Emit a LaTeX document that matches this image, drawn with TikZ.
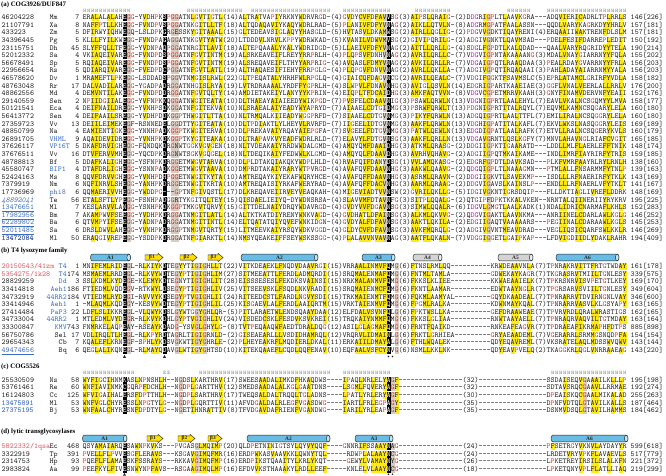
\documentclass[tikz,border=0pt]{standalone}
\usepackage{fontspec}
\setmainfont{Liberation Serif}
\usepackage{xcolor}
\definecolor{txt}{RGB}{35,35,35}
\definecolor{rtxt}{RGB}{228,62,52}
\definecolor{mtxt}{RGB}{175,40,175}
\definecolor{ycol}{RGB}{255,233,25}
\definecolor{gcol}{RGB}{214,204,194}
\definecolor{bluec}{RGB}{60,110,200}
\definecolor{dblue}{RGB}{25,55,145}
\definecolor{pinkc}{RGB}{228,88,98}
\definecolor{hcol}{RGB}{110,110,110}
\definecolor{hblue}{RGB}{105,188,228}
\definecolor{hgray}{RGB}{212,212,212}
\definecolor{scol}{RGB}{255,222,0}
\newcommand\mono{\ttfamily\fontsize{7.62pt}{7.6pt}\selectfont}
\newcommand\monosmall{\ttfamily\fontsize{5.2pt}{5.2pt}\selectfont}
\makeatletter
\newcount\seqcol
\newcount\hcnt
\newcount\rowno
\def\blackcols{,}\def\graycols{,}\def\yelcols{,}\def\magcols{,}
\def\Dfive{-----}
\def\DA{\Dfive\Dfive}
\def\DB{\Dfive\Dfive\Dfive-}
\def\DC{\Dfive\Dfive\Dfive--}
\def\incol#1{\edef\seq@tmp{\noexpand\in@{,\the\seqcol,}{#1}}\seq@tmp}
\def\seqrow#1{\edef\seq@arg{#1}\seqcol=0 \expandafter\seq@loop\seq@arg\relax}
\def\seq@loop#1{\ifx#1\relax\else\seq@char{#1}\advance\seqcol\@ne\expandafter\seq@loop\fi}
\def\seq@char#1{%
  \let\seq@bg\@empty\def\seq@fg{txt}%
  \incol\blackcols
  \ifin@\def\seq@bg{black}\def\seq@fg{white}%
  \else
    \in@{#1}{GP}\ifin@\def\seq@fg{rtxt}\fi
    \incol\magcols\ifin@\in@{#1}{DG}\ifin@\def\seq@fg{mtxt}\fi\fi
    \incol\graycols
    \ifin@\def\seq@bg{gcol}%
    \else\incol\yelcols\ifin@\in@{#1}{ACFILMVWY}\ifin@\def\seq@bg{ycol}\fi\fi
    \fi
  \fi
  \hbox to 4pt{\ifx\seq@bg\@empty\else\rlap{\color{\seq@bg}\vrule width 4pt height 5.6pt depth 1.6pt}\fi\hss\textcolor{\seq@fg}{#1}\hss}%
}
\def\Reps#1#2{\hcnt=#2\relax\loop\ifnum\hcnt>0 \hbox to 4pt{\hss#1\hss}\advance\hcnt\m@ne\repeat}
\def\cury{0}
\def\spx{49.5}
\newcommand\setrowy[1]{\xdef\cury{#1}}
\newcommand\seqentry[7]{%
  \global\advance\rowno\@ne
  \node[idtxt,#1] (id\the\rowno) at (1.5,\cury) {#2};
  \node[sptxt,#3] (sp\the\rowno) at (\spx,\cury) {#4};
  \node[numtxt,anchor=base east] (st\the\rowno) at (79.5,\cury) {#5};
  \node[seqtxt] (sq\the\rowno) at (82.5,\cury) {\seqrow{#6}};
  \node[numtxt,anchor=base west] (en\the\rowno) at (630.5,\cury) {#7};
  \pgfmathsetmacro\seq@ny{\cury+7.6}\xdef\cury{\seq@ny}%
}
\makeatother
\newcommand\helixbar[6]{%
  \draw[helixsty,fill=#5] (#2+1.8,#4-3.4) -- (#3-1.8,#4-3.4) arc[start angle=-90,end angle=90,x radius=1.8,y radius=3.4] -- (#2+1.8,#4+3.4) arc[start angle=90,end angle=270,x radius=1.8,y radius=3.4] -- cycle;
  \draw[helixsty,fill=#5!40!white] (#3-1.8,#4) ellipse[x radius=1.8,y radius=3.4];
  \node[barlabel] (#1) at ({(#2+#3)/2},#4) {#6};
}
\newcommand\strandarrow[5]{%
  \draw[strandsty] (#2,#4-2.6) -- (#3-5,#4-2.6) -- (#3-5,#4-4.2) -- (#3,#4) -- (#3-5,#4+4.2) -- (#3-5,#4+2.6) -- (#2,#4+2.6) -- cycle;
  \node[barlabel] (#1) at ({(#2+#3-4)/2},#4) {#5};
}
\tikzset{
  idtxt/.style={anchor=base west,inner sep=0pt,font=\mono,text=txt},
  spsec/.style={anchor=base west},
  sptxt/.style={inner sep=0pt,font=\mono,text=txt,spsec},
  numtxt/.style={inner sep=0pt,font=\mono,text=txt},
  seqtxt/.style={anchor=base west,inner sep=0pt,font=\mono,text=txt},
  hdr/.style={anchor=base west,inner sep=0pt,font=\bfseries\fontsize{6.8pt}{8pt}\selectfont,text=black},
  hhh/.style={anchor=base west,inner sep=0pt,font=\monosmall,text=hcol},
  helixsty/.style={draw=black!85,line width=0.45pt},
  strandsty/.style={draw=black!85,line width=0.45pt,fill=scol},
  barlabel/.style={inner sep=0pt,font=\bfseries\fontsize{5.4pt}{6pt}\selectfont,text=black!85},
}
\begin{document}
\begin{tikzpicture}[x=1pt,y=-1pt]
\useasboundingbox (0,0) rectangle (666,476);
\fill[white] (0,0) rectangle (666,476);
% ---------------- (a)
\node[hdr] (hA) at (1,6.5) {(a) COG3926/DUF847};
\node[hhh] (hhA1) at (82.5,12.6) {\Reps{H}{12}};
\node[hhh] (hhA2) at (186.5,12.6) {\Reps{H}{14}};
\node[hhh] (hhA3) at (250.5,12.6) {\Reps{H}{20}};
\node[hhh] (hhA4) at (342.5,12.6) {\Reps{H}{12}};
\node[hhh] (hhA5) at (414.5,12.6) {\Reps{H}{9}};
\node[hhh] (hhA6) at (506.5,12.6) {\Reps{H}{6}};
\node[hhh] (hhA7) at (546.5,12.6) {\Reps{H}{20}};
\def\blackcols{,10,20,76,}
\def\graycols{,11,22,23,75,101,}
\def\magcols{,97,98,}
\def\yelcols{,2,3,6,7,15,27,29,31,32,34,40,43,44,47,48,51,54,55,58,66,69,70,71,73,74,82,83,85,86,89,90,100,105,108,119,120,123,124,127,130,131,134,}
\setrowy{19.7}
\seqentry{}{46204228}{}{Mm}{7}{ERALALALAHEGG-YVDHPKSPGGATNLGVTIGTL(14)ALTRATVAPIYRKNYWDRVRGD-(4)GVDYCVFDFAVVSG(3)AIPSLQRAIG-(2)DDGRIGPLTLAAVKGRA---ADQVIERICADRLTPLRRLS}{146[226]}
\seqentry{}{21107791}{}{Xa}{8}{NAFFPTLLKHEGG-FVNDPVSPGGATNKGITLLTF(18)ALTQDAQAVIYKAQYWDRLRAD-(5)PLANIVFDFYVNAG(2)AIKLLQTVLN-(8)ADGRMGPATFAALASSN---QQDLVARYKAGRKDYYHRLV}{157[181]}
\seqentry{}{433223}{}{Zm}{5}{DFIRWYIQHWEGQ-LSLDPKGRGESSKYGITAAAL(15)GLTEDEAVSIGLAQYYHASGLD-(5)HVTASVLDKAMWSG(2)AIRLLQGLIG-(2)PDGVVGDKTIQAYRENI(4)ERQAAIIWAKTRENFDLSLM}{157[181]}
\seqentry{}{34396445}{}{Pg}{5}{KLLLFYILKWEGG-FVNDPAGAGGATNKGVTYATW(20)LTDDDVLNRVLKPPYWDRWKAD-(5)KVANILVDWVMVSG(2)GIVIPQRILG-(2)ADGIVGNKTLQAVMSAD---PDELFESIFDARREPLEDIT}{150[192]}
\seqentry{}{23115751}{}{Dh}{45}{SLYFFQLLTFEGG-YVDNPAQPGGATNRGITLAVI(18)ALTEPQAAALYKALYWDRIDGD-(5)LLAEIVFDFYVNAG(2)AITLLQRLLG-(4)SDGLFGPDTLKALQDAD---QAALVARYRQGRIDYYTELA}{190[214]}
\seqentry{}{52012332}{}{Sa}{4}{VKIAQEIVAREGG-FVNDPDSPGGATNFGVTINTM(19)ALSRKEAVEIFLREYYRRPRLH-(4)PLQPSVFDNHVNAG(2)AVRILQRLLC-(7)VDGVIGPNTAKAAAANG(3)MDALVNAYGIARRNYYFQLA}{155[202]}
\seqentry{}{56678491}{}{Sp}{5}{RQIAQEIVAREGG-FVNDPDSPGGATNFGVTINTM(19)ALSREQAVEIFLTHYYARPRIG-(4)AVQASLFDMYVNAG(2)AVKILQRLLR-(7)VDGAIGPQTLRAAQDAA(3)PEALRDAYGVARRNYYFRLA}{156[203]}
\seqentry{}{22956654}{}{Rs}{5}{QDIARQIVAREGG-FVEDPDCPGGATNFGVTLATL(19)ALTHAQAESIFIEHYFRRPGLG-(4)PLQPGVFDNVVNAG(2)AVRLLQKLLA-(7)ADGIVGPQTIRQAQAAI(3)PAHLADAYAIARRNMYYALA}{156[203]}
\seqentry{}{46578620}{}{Dv}{1}{MRAMEFTLPKEGG-LSDDADSPGGVTNMGISLRWL(22)GLTPEQATALYHRHFWLRPGLQ-(4)GIAICQFDAGVNCG(2)AVRILQEALC-(7)VDGIFGGKTFSAVMSLC(5)EPRLATAMCLGRIRFYVDLA}{158[182]}
\seqentry{}{48763048}{}{Rr}{17}{DALVADILAREGG-YGADPADRGGATNHGISLRYA(19)LVTRDRAAAALYRDFFYGPRLH-(4)SLWPVLFDNAVNHG(3)AVIGLQSVLN(14)EDGRIGPARTKAAEIAE(3)GGFLVNALVEERLALLRRLV}{176[200]}
\seqentry{}{48862556}{}{Md}{4}{DEMVNTILAKEGG-FVNDPDDRGGATNFGVTQLTY(14)AMDIETAKEIYLANYYYKPRIN-(4)EIQPLTFDCAIDHG(3)AMKFAQTVVN-(8)VDGVCGPETMRRVKAAH(3)GNYFINAMVDERVNFYEAII}{152[176]}
\seqentry{}{29140559}{}{Sen}{2}{NPIIDGIIALEGG-YVFNPKKQGGATNWGITEATA(10)DLTHAEAYAIAIEEDYWIKPGD-(7)PVSFELCDAAVNIG(3)PSAWLQRWLN(13)VDGNIGPRTLAALEHYL(7)EAVLVKALNCSGQMYYLMVA}{158[177]}
\seqentry{}{50121541}{}{Eca}{4}{DEIFNAILDREGG-YVNHPSDKGGATNFGITEKVA(10)NLSRAEALAIYEADYWYAPRYD-(7)AIAAELCDTGIDMG(3)PSRWFQRWLT(13)PDGNIGPRTITALRQYL(7)EQVMLKAMNCSQGARYLELA}{160[180]}
\seqentry{}{56413772}{}{Sen}{4}{DEIFAAILSREGG-YVDHPDDKGGPTHWGITLTTA(10)NLTRMQALKIIEADYWGGPRFD-(7)SIAAELCDTGVNMG(3)PIKYFQRWLN(13)ADGQIGPRTLAALTTFL(7)EMILIRALNCSQGGRYLELA}{160[180]}
\seqentry{}{27359723}{}{Vv}{13}{DEIILEIMEKEGF-RSNNEDELGGDTTYGITEATA(10)DLTPDIAKTLYLHEYVLRVRFD-(7)IIGEELIDTGVNMG(3)AAKFLQRWLN(13)VDGHIGPATITALKAFL(7)EKVLWKSLNASQGGRYLEIS}{169[189]}
\seqentry{}{48850799}{}{Na}{4}{EAMIENTIGKEGG-YNNHPADKGGPTKWGITERVA(10)DLPREKAVAIYRQAYAIEPGFA-(7)SVGEELFDTGVNMG(3)PATWLQEWLN(13)EDGDIGPATLAALRAFK(7)ETVLLRALNCSQGERYKVLS}{160[179]}
\seqentry{}{26891705}{text=bluec}{VHML}{9}{AQAIDEVIDREGG-YVNHPKDKGGPTKYGITEAKA(10)DLTRAPAVKVYEADFWDRLRLD-(7)ELAVYLFDTGVNSG(3)AAKFLQRLLN(13)VDGAVGRNTLQSLKGFY(7)MNVLAHAVNGLRIAFCVGIT}{165[185]}
\seqentry{}{37626117}{text=bluec}{VP16T}{5}{DKAFDRVIGHEGG-FQNDQKDRGNWTGGKVGVGEN(18)NLTVDEAKAIYRRDWWDALGMD-(4)AMQYQMFDAAIDHG(3)ATKMLQRASG-(2)DDGIIGPKTIGAARATD---LDDLLMLFLAERLEFFTNIK}{148[174]}
\seqentry{}{37676511}{}{Vv}{16}{DTVFERVVMHEGG-YQCDPKDRGNWTSGKVGQGEL(18)NLTDEQIKAIYFEDWWLKLGMD-(4)AMQYQLFDAAVDHG(3)AVRHVQHAVG-(2)ADGIIGPQTMKAIKAME---INDLIMRFIAYRIRFYTRIS}{159[185]}
\seqentry{}{48788813}{}{Bf}{5}{DDAFKALIGHEGG-YSFNPKDRGGETMWGVTARVA(10)DLPLDTAKQIAKQKYWDPLHLD-(4)RVAFQIFDANYDSG(1)VVLAMQKASG-(2)EDGRFGPDTLDAVKSAD---PLKFVMRFAAYRLRYLRNLH}{138[160]}
\seqentry{}{45580747}{text=bluec}{BIP1}{4}{DTAFDRLIGHEGG-YSNNPADKGGETMWGVTAAVA(10)DMPRDTAKAIYRARYWTPVRGD-(4)AVAFQVFDAAVNHG(3)AAKWLQAAVG-(2)QDGQIGPLTLNAAAGMN---PTMLALLFNSARMMFYTNLP}{139[163]}
\seqentry{}{52424163}{}{Ms}{8}{QQVFDRVVGHEGG-YVNHPDHPGGETNWGITKYTA(10)AMTREQAYKIYEKAFWQRYHCE-(4)AVAFQFFDAAVNHG(3)ASRMLQRAVN-(2)DDGIIGKVTLSAVEKMP---ISDLLLRFNAERIRFYTKLK}{143[169]}
\seqentry{}{7379919}{}{Nm}{6}{NQFINRVLSHEGG-YANHPKDRGGETNWGITKRTA(10)AMTREQAISIYRKAFWERYRAD-(4)AVAFQFFDACVNHG(3)AARMLQRAAG-(2)DDGVIGAVSLKAINSLP---ENDLLLRFNAERLVFYTKLT}{141[167]}
\seqentry{}{17736969}{text=bluec}{phi8}{6}{QQMAERIVVHEGG-YWDDPG---GPTNFGIVQSTL(17)DLKREQAVEIIRVEYVEAQKAH-(4)MIGEVIADTVVNSW(2)GVRILQKLLG-(5)IDGIVGKNTIGRSDQIP---FLLDKTIAGLIVREFLDDRK}{148[169]}
\seqentry{text=bluec,font=\mono\itshape}{48892041}{}{Te}{56}{ETALSFTLYPEGG-FSNHPADGGRTYKGITQLTEY(15)QISDAELIEIYQ-DYWDNSRSA-(4)SLAVVMFDTAVNFG(3)SITPLQQALG-(2)QTGIPFDPKTKKALVKEN--NRNTALQIINERIIYRYKRV}{195[225]}
\seqentry{text=bluec}{\underline{13476651}}{}{Ml}{7}{KESLARVVLANGG-YSNHPKDKGGPTMKGVTQRVY(15)GITTDELNAIYDRQYWDAVRGD-(4)GVDYVVFDGAVNSG(3)SIMWLQQALR-(6)IDGVLGMGTLAALKADK(1)NDALIDRICNARMAFLKHLS}{152[283]}
\seqentry{text=bluec}{\underline{17982956}}{}{Bm}{7}{AKAMPWVFSEEGG-YVDHPKDRGGATNMGITLATL(14)ALTKTKATDIYRENYWNKVAGD-(4)GVDHATLDFAINSG(3)ALKMLQKVVG-(2)QDGVIGAKTLAAVNKMA---ANRIINELCDARLAWLKGLG}{146[252]}
\seqentry{text=bluec}{\underline{62289802}}{}{Ba}{6}{QTVMPYIFSEEGG-YADNPADRGGATNMGITINTL(14)ELTQATATQIYQVEFWNKIDGN-(4)GVDYALFDFAVNSG(3)AAKTLQKILA-(2)EDGIIGAQTVAAAAARS---PEGIINALCDARAAWLKGLS}{145[253]}
\seqentry{text=bluec}{\underline{52011485}}{}{Sa}{6}{DRSLDWVLAHEGG-YVNHPKDRGGPTNMGVTQRTY(15)LITMEEVKAIYRSQYWDKVGGD-(4)GLDYCVFDFAVNSG(3)AVKFMQRQLG-(2)ADGIVGVNTMEAVDRAD---VEGLIQSICQARFSWLKKLR}{146[269]}
\seqentry{text=dblue,font=\mono\bfseries}{13472084}{}{Ml}{50}{ERAQGIVREPEGG-YSDDPKDRGGATNFGIARKTL(14)NMSYQEAKEIFFSEYWSKSSGG-(4)PLALAVVNVAVNAG(3)AATFLQKALN-(7)VDGGIGGETLGAIPKAP---LFDVIGDIIDLYDAKLRAHR}{194[409]}
% ---------------- (b)
\node[hdr] (hB) at (1,252.8) {(b) T4 lysozyme family};
\helixbar{bA1}{90.5}{130.5}{257.5}{hblue}{A1}
\strandarrow{bB1}{145}{163}{257.5}{β1}
\strandarrow{bB2}{180}{197}{257.5}{β2}
\strandarrow{bB3}{208}{223}{257.5}{β3}
\helixbar{bA2}{241}{318}{257.5}{hblue}{A2}
\helixbar{bA3}{362}{395}{257.5}{hblue}{A3}
\helixbar{bA4}{413}{442}{257.5}{hgray}{A4}
\helixbar{bA5}{498}{533}{257.5}{hgray}{A5}
\helixbar{bA6}{556}{619}{257.5}{hblue}{A6}
\def\blackcols{,10,20,76,}
\def\graycols{,11,23,28,30,78,}
\def\magcols{,}
\def\yelcols{,2,3,5,6,8,15,17,18,24,27,29,32,33,40,44,45,48,49,52,53,56,57,60,68,69,70,71,73,74,75,82,85,86,89,104,107,108,111,120,123,124,127,128,131,134,135,}
\def\spx{67}
\tikzset{spsec/.style={anchor=base east}}
\setrowy{268.7}
\seqentry{text=pinkc}{20150543/41zm}{text=bluec}{T4}{1}{MNIFEMLRIDEGL-RLKIYKDTEGYYTIGIGHLLT(22)VITKDEAEKLFNQDVDAAVRGI(15)VRRAALINMVFQMG(6)FTNSLRMLQQ\DA KRWDEAAVNLA(7)TPNRAKRVITTFRTGTWDAY}{161[178]}
\seqentry{text=pinkc}{5354275/1k28}{text=bluec}{T4}{174}{MSMAEMLRRDEGL-RLKVYWDTEGYPTIGIGHLIM(27)SITMEEATTLFERDLADMQRDI(15)SRQMALENMAFQMG(6)FNTMLTAMLA\DA GDWEKAYKAGR(7)TKGRASRVTMIILTGNLESY}{339[575]}
\seqentry{}{28829259}{text=bluec}{Dd}{3}{SSLKDMLKYDEGE-KLEMYKDTEGNYTIGIGHLIT(28)EISSSESESLFEKDKSVAINSI(15)NRKMALANMVFQMG(6)FKKSLKLIEE\DA KKWAEAAIELK(7)TPKRSNRVISVPETGTLKEY}{169[170]}
\seqentry{}{33414818}{text=bluec}{Aeh1}{186}{FTIEDMLVQDEGV-RTKWYLDSEGYPTIGIGHLIV(25)VITSEEVSKLFSQDLNKVRADI(15)SRQMAIENMCFQMG(6)FKNTLAAMAR\DA EDWTAAYNGLR(7)TPGRSARVSVIILTGNLESY}{349[604]}
\seqentry{}{34732919}{text=bluec}{44RR2}{184}{VTIEDMLRYDEGI-RVVVYKDSEGYPTVGIGHLII(24)RITEEDCSTLFARDLNGVYSDI(15)TRKMAIENMTFQMG(6)FQKMLAAMYAL\Dfive----GQYDKAADEAL(7)TPNRARRVTDVIRNGNLVAY}{346[600]}
\seqentry{}{33414946}{text=bluec}{Aeh1}{1}{-MLAQMLKQDEGY-KESVYWDTEGYPTIGIGHLIL(25)KISGAEVLALFERDLAAIQRTM(15)VRKTAIENMVFQMG(6)FPGMLRALKA\DA KDWNMAYKQAL(7)TPNRARRVASVLKLGSYAPY}{163[165]}
\seqentry{}{27414484}{text=bluec}{PaP3}{22}{LDFLSLIKKREGL-VLQWYKDSLGYWTGGYGHLQR-(5)PITLARAETWLENDSQAAYDAA(12)ELFDALVSVNFQLG(6)FPKTWSLLKA\DA GEFDRAAWEAE(7)TPVRVRDLQRALWRASTIGS}{162[165]}
\seqentry{}{34733004}{text=bluec}{44RR2}{1}{MTLEDMLVYDEGR-RLKVYKDHLGYPTVGIGHLIV(24)VISDEDCSKLFESDVKSVKREI(15)TRQKAIYNMMFQMG(6)FKKSLGLIAA\DA RNWTAAYAELL(7)TPNRAQRVAQVILTGTMDAY}{163[164]}
\seqentry{}{33300847}{text=bluec}{KMV}{743}{FNMRKELAQPEAY-RSEAYKDADG-YSVGLGHYLG-(8)TVTPEQAAQWFAEDTDRALDQG(12)ASILGLAGMAFQMG(6)FRNTFQAIKD\DA RNKEAFEAGVR(7)TPDRAEAFIKRMAPHFDTPS}{885[898]}
\seqentry{}{56750786}{}{Sel}{17}{VDLIRQLTLHEGL-RLKPYRDTAGRLTIGIGRNLD-(2)GISEAEARLLLVSDIDHAMRQL(12)VRQRVLIDMAINLG(6)FRKTLGRHIEA\Dfive----GRYAEAADEML(7)VGERARRLSRMMGSNQDPFA}{154[154]}
\seqentry{}{29654343}{}{Cb}{7}{KQALEFLKRNEGF-SPHLYKDSVGKWTIGYGHRLE-(2)PLHEYEAKRFLMQDIERLDKAL(11)ERKAIILDMAYALG(6)FTHLWQALEK\DA QDYEQAVREML(7)VKSRATELAQLMDSSWVQWV}{143[144]}
\seqentry{text=bluec}{\underline{49474656}}{}{Bq}{6}{QEGLALIKQNEGL-RLMAYQDAVGLWTIGYGHTSD(10)KITEKQAAEFLCQDLQQFENAV(10)EQFAALVSFCYNVG(6)NSMLLKKLNK\DA QDYEAVPVELQ(2)TKAGGKRLQGLVNRRAAEAG}{143[220]}
\fill[txt] (123,357.8) -- (126,357.8) -- (124.5,355) -- cycle;
\fill[txt] (163,357.8) -- (166,357.8) -- (164.5,355) -- cycle;
\fill[txt] (388.5,356.5) circle[radius=0.9];
\fill[txt] (392.5,356.5) circle[radius=0.9];
% ---------------- (c)
\node[hdr] (hC) at (1,368.8) {(c) COG5526};
\node[hhh] (hhC1) at (82.5,374.6) {\Reps{H}{13}};
\node[hhh] (hhC2) at (162.5,374.6) {\Reps{E}{2}};
\node[hhh] (hhC3) at (198.5,374.6) {\Reps{H}{33}};
\node[hhh] (hhC4) at (342.5,374.6) {\Reps{H}{12}};
\node[hhh] (hhC5) at (550.5,374.6) {\Reps{H}{19}};
\def\blackcols{,10,76,}
\def\graycols{,24,77,125,}
\def\yelcols{,0,2,3,6,7,13,15,19,27,31,34,44,45,48,49,52,53,56,65,68,69,72,75,78,120,123,124,127,128,131,132,134,135,}
\def\spx{49.5}
\tikzset{spsec/.style={anchor=base west}}
\setrowy{382.2}
\seqentry{}{25530509}{}{Ns}{58}{WYFIGCIHNMKASLNPNSHLH--NGDSLKARTHRV(17)SWEESAADALIMKDFHKAQDWS----IPAQLNRLELYAGF\DB(32)\DC SSDAISEQVGAAAILKLLLP}{195[198]}
\seqentry{}{53761461}{}{Re}{60}{WNFIAVINMKCGQRPFDCHLH--NGDPLGARTTHV(12)SMEDSAADALALKGLGAATDNS----LSGMLFQVERYAGF\DB(32)\DC SDTAVSRQCGAAVLLRRMAE}{192[274]}
\seqentry{}{16124803}{}{Cc}{125}{WFVIGAIHALERSFDPTTHLH--NGDPLSARTHRV(17)TWEQSALDALTRQQLTGLADNS----LPATLYRLERYAGF\DB(30)\DC DPEAISKQCGAALMIKALAD}{255[263]}
\seqentry{text=bluec,font=\mono\bfseries}{13475891}{}{Ml}{53}{WNFVGLCHYRESSLNPGTYLG--NGDPLGQRTTIV(11)AFVDGALDALRLEGFVGASDWG----IARTLFRLEGPAGY\DB(35)\DC DPNFVDTQLGTAVILKALLS}{187[464]}
\seqentry{text=bluec,font=\mono\bfseries}{27375195}{}{Bj}{53}{WNFAALCHYRESNFDPDTYLG--NGETIHNRATTIV(8)TFVDGAVDAFRIENFVGANDWG----IARILYRLEAPAGF\DB(35)\DC DSNMVDSQLGTAVILHAMMS}{184[462]}
% ---------------- (d)
\node[hdr] (hD) at (1,433.0) {(d) lytic transglycosylases};
\helixbar{dA1}{82.5}{127}{438.5}{hblue}{A1}
\strandarrow{dB1}{147}{163}{438.5}{β1}
\strandarrow{dB2}{178}{195}{438.5}{β2}
\strandarrow{dB3}{208}{222}{438.5}{β3}
\helixbar{dA2}{247}{330}{438.5}{hblue}{A2}
\helixbar{dA3}{355}{393}{438.5}{hblue}{A3}
\helixbar{dA6}{551}{628}{438.5}{hblue}{A6}
\def\blackcols{,10,76,}
\def\graycols{,28,77,}
\def\yelcols{,3,4,6,7,13,17,18,27,29,30,32,33,43,46,47,50,53,56,57,60,69,70,72,73,74,75,117,121,124,127,128,131,134,135,}
\setrowy{448.7}
\seqentry{text=pinkc}{5822332/1qsa}{}{Ec}{468}{QSYAMAIARQESAWNPKVKS---PVGASGLMQIMP(20)QLDPETNINIGTSYLQYVYQQF----GNNRIFSSAAYNAG\DB(24)\DC PFSETRGYVKNVLAYDAYYR}{599[618]}
\seqentry{}{3322919}{}{Tp}{391}{PVELLFLPVVESGFLERAVS---KSGAVGIMQFMR(16)ERDPWKASVAAVKKLQWNYTQL-----RDWPLALAAYNCG\DB(24)\DC LRDETVRYVPKFLAVAEVLS}{517[779]}
\seqentry{}{2314753}{}{Hp}{93}{PQEFLFLAMAESKFSSRAYS---RKKAVGIMQFMP(16)ERDPIKSTQAAITYLKRLYKQT-----GEWYLVAMAYNYG\DB(26)\DC LPKETREYIRSILSLALKFN}{221[372]}
\seqentry{}{2983824}{}{Aa}{99}{PEEFKYLFIVESNWYNPFAVS--RSGAAGIMQLMP(16)EFDVVKSTHAAAKYLRDLLEEF-----KNLELVLAAYNCG\DB(18)\DC LPKETQNYVPLFLATLLIAQ}{219[299]}
\fill[txt] (123,475.6) -- (126,475.6) -- (124.5,472.9) -- cycle;
\fill[txt] (388.5,474.3) circle[radius=0.9];
\fill[txt] (392.5,474.3) circle[radius=0.9];
\end{tikzpicture}
\end{document}
